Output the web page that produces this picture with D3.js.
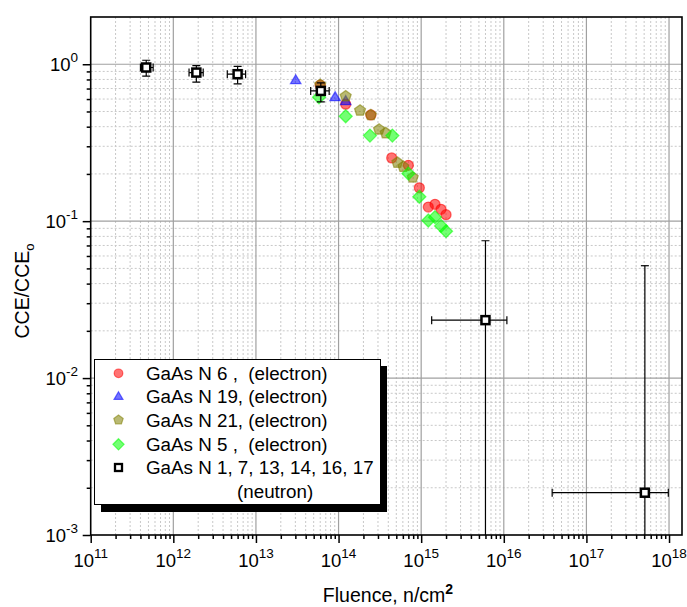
<!DOCTYPE html>
<html><head><meta charset="utf-8">
<script src="https://cdn.jsdelivr.net/npm/d3@7"></script>
<style>body{margin:0;background:#fff}svg{display:block}text{font-family:"Liberation Sans",Arial,sans-serif;fill:#000}</style>
</head><body><svg id="c" width="687" height="607"></svg>
<script>
// ---- data ----
const xTickVals = [1e11,1e12,1e13,1e14,1e15,1e16,1e17,1e18];
const xTickExp = ["11","12","13","14","15","16","17","18"];
const yTickVals = [1e-3,1e-2,1e-1,1e0];
const yTickExp = ["-3","-2","-1","0"];

const n6x = [6.0e13,1.22e14,2.46e14,4.4e14,7.0e14,9.5e14,1.22e15,1.47e15,1.74e15,2.0e15];
const n6y = [0.735,0.556,0.475,0.253,0.227,0.163,0.123,0.128,0.119,0.110];

const n19x = [3.03e13,9.08e13,1.22e14];
const n19y = [0.79,0.616,0.581];

const n21x = [6.0e13,1.22e14,1.82e14,2.46e14,3.09e14,3.72e14,5.15e14,6.08e14,7.9e14];
const n21y = [0.74,0.625,0.507,0.475,0.384,0.364,0.236,0.222,0.19];

const n5x = [5.8e13,1.22e14,2.4e14,4.48e14,7.0e14,9.5e14,1.22e15,1.47e15,1.74e15,2.0e15];
const n5y = [0.616,0.466,0.351,0.351,0.201,0.143,0.101,0.106,0.0933,0.0863];

const neuX   = [4.7e11,1.9e12,6.0e12,6.1e13,6.0e15,5.1e17];
const neuY   = [0.953,0.885,0.864,0.676,0.0234,0.00186];
const neuXlo = [4.0e11,1.55e12,4.5e12,4.6e13,1.34e15,3.85e16];
const neuXhi = [5.7e11,2.3e12,7.5e12,7.7e13,1.09e16,9.8e17];
const neuYlo = [0.84,0.77,0.75,0.575,1e-4,1e-4];
const neuYhi = [1.06,0.98,0.97,0.76,0.075,0.052];

const legendLabels = ["GaAs N 6 ,  (electron)","GaAs N 19, (electron)","GaAs N 21, (electron)","GaAs N 5 ,  (electron)","GaAs N 1, 7, 13, 14, 16, 17"];
const legendLabel2 = "(neutron)";

// ---- chart ----
const svg = d3.select("#c");
const L=90.7, R=682, T=17, B=535;
const x = d3.scaleLog().domain([1e11, Math.pow(10,18.157)]).range([L,R]);
const y = d3.scaleLog().domain([1e-3, 2]).range([B,T]);

const minorsX = [], minorsY = [];
for (let e=11;e<=18;e++) for (let m=2;m<=9;m++){const v=m*Math.pow(10,e); if(v<x.domain()[1]) minorsX.push(v);}
for (let e=-3;e<=0;e++) for (let m=2;m<=9;m++){const v=m*Math.pow(10,e); if(v<y.domain()[1]) minorsY.push(v);}

const grid = svg.append("g");
grid.selectAll(".mx").data(minorsX).join("line").attr("x1",d=>x(d)).attr("x2",d=>x(d)).attr("y1",T).attr("y2",B)
  .attr("stroke","#c8c8c8").attr("stroke-dasharray","2,2").attr("stroke-width",1);
grid.selectAll(".my").data(minorsY).join("line").attr("y1",d=>y(d)).attr("y2",d=>y(d)).attr("x1",L).attr("x2",R)
  .attr("stroke","#c8c8c8").attr("stroke-dasharray","2,2").attr("stroke-width",1);
grid.selectAll(".Mx").data(xTickVals.slice(1)).join("line").attr("x1",d=>x(d)).attr("x2",d=>x(d)).attr("y1",T).attr("y2",B)
  .attr("stroke","#a0a0a0").attr("stroke-width",1.2);
grid.selectAll(".My").data(yTickVals.slice(1)).join("line").attr("y1",d=>y(d)).attr("y2",d=>y(d)).attr("x1",L).attr("x2",R)
  .attr("stroke","#a0a0a0").attr("stroke-width",1.2);

// axes ticks
const xAx = d3.axisBottom(x).tickValues(xTickVals).tickSize(8).tickFormat("");
const xAxMin = d3.axisBottom(x).tickValues(minorsX).tickSize(4).tickFormat("");
const yAx = d3.axisLeft(y).tickValues(yTickVals).tickSize(8).tickFormat("");
const yAxMin = d3.axisLeft(y).tickValues(minorsY).tickSize(4).tickFormat("");
[xAx,xAxMin].forEach(a=>{const g=svg.append("g").attr("transform",`translate(0,${B})`).call(a);g.select(".domain").remove();g.selectAll("line").attr("stroke","#000").attr("stroke-width",1.5);});
[yAx,yAxMin].forEach(a=>{const g=svg.append("g").attr("transform",`translate(${L},0)`).call(a);g.select(".domain").remove();g.selectAll("line").attr("stroke","#000").attr("stroke-width",1.5);});

// tick labels
xTickVals.forEach((v,i)=>{
  const t = svg.append("text").attr("x",x(v)).attr("y",566.5).attr("text-anchor","middle").style("font-size","18.5px");
  t.append("tspan").text("10");
  t.append("tspan").attr("dy",-9).style("font-size","13.5px").text(xTickExp[i]);
});
yTickVals.forEach((v,i)=>{
  const t = svg.append("text").attr("x",78).attr("y",y(v)+6.5).attr("text-anchor","end").style("font-size","18.5px");
  t.append("tspan").text("10");
  t.append("tspan").attr("dy",-9).style("font-size","13.5px").text(yTickExp[i]);
});

// axis titles
const xt = svg.append("text").attr("x",388).attr("y",602).attr("text-anchor","middle").style("font-size","19.5px");
xt.append("tspan").text("Fluence, n/cm");
xt.append("tspan").attr("dy",-8).style("font-size","14px").style("font-weight","bold").text("2");
const yt = svg.append("text").attr("transform","translate(29,291) rotate(-90)").attr("text-anchor","middle").style("font-size","19.5px");
yt.append("tspan").text("CCE/CCE");
yt.append("tspan").attr("dy",5).style("font-size","13px").text("o");

// clip
svg.append("clipPath").attr("id","clip").append("rect").attr("x",L).attr("y",T).attr("width",R-L).attr("height",B-T);
const plot = svg.append("g").attr("clip-path","url(#clip)");

// marker shapes
function pentagon(r){let p=[];for(let k=0;k<5;k++){const a=-Math.PI/2+k*2*Math.PI/5;p.push([r*Math.cos(a),r*Math.sin(a)]);}return "M"+p.map(q=>q.join(",")).join("L")+"Z";}
const shapes = {
  circle: s=>d3.symbol(d3.symbolCircle, Math.PI*s*s)(),
  triangle: s=>{const h=s*1.8;return `M0,${-h*0.62}L${h*0.58},${h*0.38}L${-h*0.58},${h*0.38}Z`;},
  pentagon: s=>pentagon(s*1.15),
  diamond: s=>{const r=s*1.3;return `M0,${-r}L${r},0L0,${r}L${-r},0Z`;}
};
const series = [
  {xs:n6x, ys:n6y, color:"#ff0000", shape:"circle"},
  {xs:n19x, ys:n19y, color:"#0000ff", shape:"triangle"},
  {xs:n21x, ys:n21y, color:"#808000", shape:"pentagon"},
  {xs:n5x, ys:n5y, color:"#00ff00", shape:"diamond"}
];
series.forEach(s=>{
  const pts = s.xs.map((v,i)=>[v,s.ys[i]]);
  plot.append("g").selectAll("path").data(pts).join("path")
    .attr("d",shapes[s.shape](5))
    .attr("transform",d=>`translate(${x(d[0])},${y(d[1])})`)
    .attr("fill",s.color).attr("fill-opacity",0.55)
    .attr("stroke",s.color).attr("stroke-opacity",0.55).attr("stroke-width",1.3);
});

// neutron points with error bars
const neu = neuX.map((v,i)=>({x:v,y:neuY[i],xl:neuXlo[i],xh:neuXhi[i],yl:neuYlo[i],yh:neuYhi[i]}));
const eg = plot.append("g").attr("stroke","#000").attr("stroke-width",1.2).attr("fill","none");
neu.forEach(d=>{
  eg.append("line").attr("x1",x(d.x)).attr("x2",x(d.x)).attr("y1",y(d.yh)).attr("y2",y(d.yl));
  eg.append("line").attr("x1",x(d.x)-4).attr("x2",x(d.x)+4).attr("y1",y(d.yh)).attr("y2",y(d.yh));
  eg.append("line").attr("x1",x(d.x)-4).attr("x2",x(d.x)+4).attr("y1",y(d.yl)).attr("y2",y(d.yl));
  eg.append("line").attr("x1",x(d.xl)).attr("x2",x(d.xh)).attr("y1",y(d.y)).attr("y2",y(d.y));
  eg.append("line").attr("x1",x(d.xl)).attr("x2",x(d.xl)).attr("y1",y(d.y)-4).attr("y2",y(d.y)+4);
  eg.append("line").attr("x1",x(d.xh)).attr("x2",x(d.xh)).attr("y1",y(d.y)-4).attr("y2",y(d.y)+4);
});
plot.append("g").selectAll("rect").data(neu).join("rect")
  .attr("x",d=>x(d.x)-4).attr("y",d=>y(d.y)-4).attr("width",8).attr("height",8)
  .attr("fill","#fff").attr("stroke","#000").attr("stroke-width",2.5);

// frame
svg.append("rect").attr("x",L).attr("y",T).attr("width",R-L).attr("height",B-T).attr("fill","none").attr("stroke","#000").attr("stroke-width",1.6);

// legend
const lg = svg.append("g");
lg.append("rect").attr("x",101).attr("y",366).attr("width",286).attr("height",146).attr("fill","#000");
lg.append("rect").attr("x",94.5).attr("y",359.5).attr("width",286).attr("height",145).attr("fill","#fff").attr("stroke","#000").attr("stroke-width",1);
const rowY = [373.3,396.5,420,444.3,467.5];
series.forEach((s,i)=>{
  lg.append("path").attr("d",shapes[s.shape](4.3)).attr("transform",`translate(118.5,${rowY[i]})`)
    .attr("fill",s.color).attr("fill-opacity",0.55).attr("stroke",s.color).attr("stroke-opacity",0.55).attr("stroke-width",1.2);
});
lg.append("rect").attr("x",115).attr("y",rowY[4]-3.5).attr("width",7).attr("height",7).attr("fill","#fff").attr("stroke","#000").attr("stroke-width",2.3);
legendLabels.forEach((t,i)=>{
  lg.append("text").attr("x",146).attr("y",rowY[i]+6.5).style("font-size","18.8px").style("white-space","pre").attr("xml:space","preserve").text(t);
});
lg.append("text").attr("x",237).attr("y",491.5+6.5).style("font-size","18.8px").text(legendLabel2);
</script></body></html>
